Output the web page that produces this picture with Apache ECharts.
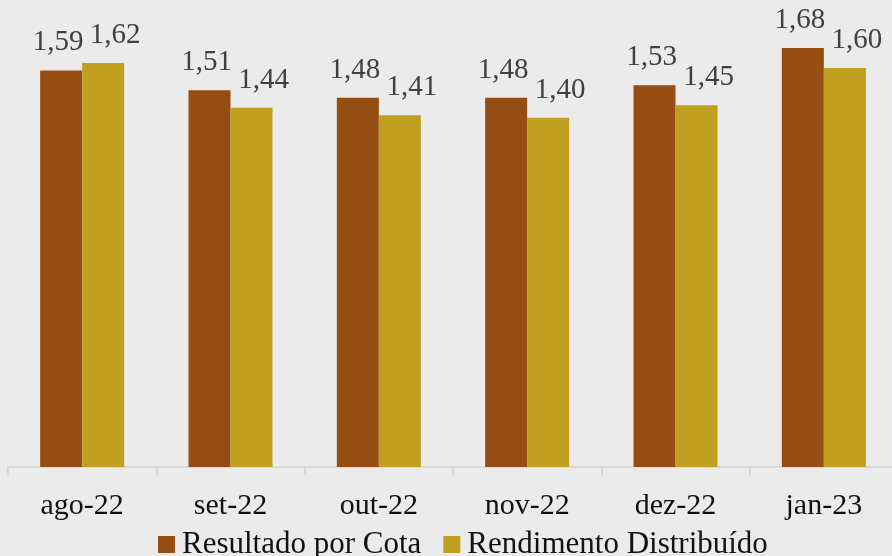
<!DOCTYPE html>
<html><head><meta charset="utf-8">
<script src="https://cdn.jsdelivr.net/npm/echarts@6/dist/echarts.min.js"></script>
<style>html,body{margin:0;padding:0;background:#ebebeb}#c{width:892px;height:556px}</style>
</head><body><div id="c"></div>
<script>
const categories = ['ago-22','set-22','out-22','nov-22','dez-22','jan-23'];
const resultadoPorCota = [1.59, 1.51, 1.48, 1.48, 1.53, 1.68];
const rendimentoDistribuido = [1.62, 1.44, 1.41, 1.40, 1.45, 1.60];
const seriesNames = ['Resultado por Cota', 'Rendimento Distribuído'];
const FONT = '"Liberation Serif", "DejaVu Serif", serif';
const fmt = p => p.value.toFixed(2).replace('.', ',');
const chart = echarts.init(document.getElementById('c'), null, {renderer:'canvas'});
chart.setOption({
  backgroundColor: '#ebebeb',
  animation: false,
  grid: {left: 8, width: 890, top: 18, bottom: 89, containLabel: false, outerBoundsMode: 'none'},
  legend: {
    left: 153, top: 524, itemWidth: 17, itemHeight: 17, itemGap: 22,
    icon: 'rect',
    textStyle: {fontFamily: FONT, fontSize: 31, color: '#111', padding: [0,0,0,2]},
    data: seriesNames
  },
  xAxis: {
    type: 'category', data: categories,
    axisLine: {lineStyle: {color: '#d4d4d4', width: 1.5}},
    axisTick: {show: true, length: 8, lineStyle: {color: '#d4d4d4', width: 1.5}},
    axisLabel: {fontFamily: FONT, fontSize: 30, color: '#111', margin: 24}
  },
  yAxis: {type: 'value', min: 0, max: 1.8, show: false, splitLine: {show: false}},
  series: [
    {
      name: seriesNames[0], type: 'bar', data: resultadoPorCota,
      barWidth: 42, barGap: '0%',
      itemStyle: {color: '#954d11'},
      label: {show: true, position: 'top', distance: 13, offset: [-3, 0], formatter: fmt,
              fontFamily: FONT, fontSize: 29, color: '#404040'}
    },
    {
      name: seriesNames[1], type: 'bar', data: rendimentoDistribuido,
      barWidth: 42, barGap: '0%',
      itemStyle: {color: '#c1a021'},
      label: {show: true, position: 'top', distance: 13, offset: [12, 0], formatter: fmt,
              fontFamily: FONT, fontSize: 29, color: '#404040'}
    }
  ]
});
</script></body></html>
